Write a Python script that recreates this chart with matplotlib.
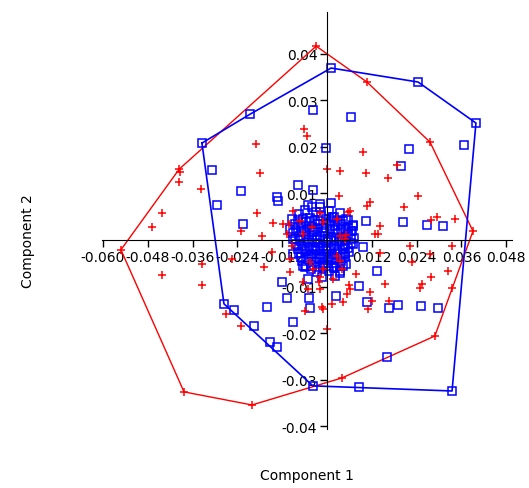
import matplotlib
matplotlib.use('Agg')
import matplotlib.pyplot as plt
import numpy as np

plt.rcParams['axes.unicode_minus'] = False

# group 1 (blue squares): component 1 / component 2 scores, in units of 1e-3
blue_x = [-33.5, -20.6, 1.1, 24.4, 39.9, 33.5, 8.6, -3.8, -27.6, -24.9, -19.6, -15.3, -13.4,
          -30.8, -29.5, -23.0, -22.5, -13.1, -3.8, 6.4, -0.3, 22.0, 36.7, 19.8, -3.8, -7.8,
          -13.4, 20.4, 26.8, 31.1, 10.4, 7.0, 13.4, 8.6, 2.1, 2.4, 10.7, 16.6, 19.0, 25.2,
          29.7, 16.1, -4.6, -4.8, -12.1, -16.1, -10.7, -9.1, -9.1, -5.9,
          -9.5, -4.1, -1.9, 1.3, -5.1, -9.9, -9.1, 4.8, 6.7, 7.0, 9.6, -1.3, 3.5, -6.4,
          -7.5, -6.0, -4.5, -3.0, -1.5, 0.5, 2.0, 3.5, 5.0,
          -8.5, -7.0, -5.5, -4.0, -2.5, -1.0, 0.8, 2.2, 3.8, 5.5, 7.0,
          -9.0, -7.6, -6.2, -4.8, -3.4, -2.0, -0.6, 1.0, 2.6, 4.0, 5.6, 7.2,
          -8.2, -6.8, -5.2, -3.8, -2.4, -1.0, 0.4, 1.8, 3.2, 4.8, 6.4,
          -7.4, -5.9, -4.4, -3.0, -1.6, 0.0, 1.4, 2.9, 4.3, 5.8,
          -6.6, -5.0, -3.6, -2.2, -0.8, 0.8, 2.3, 3.8, 5.2,
          -4.2, -2.6, -1.0, 0.6, 2.0, 3.4, -1.8, 1.2, -5.0,
          -7.8, -6.3, -4.8, -3.3, -1.8, -0.3, 1.2, 2.7, 4.2, 5.7,
          -8.3, -6.8, -5.3, -3.8, -2.3, -0.8, 0.7, 2.2, 3.7, 5.2, 6.5,
          -8.6, -7.1, -5.6, -4.1, -2.6, -1.1, 0.4, 1.9, 3.4, 4.9, 6.3,
          -7.8, -6.3, -4.8, -3.3, -1.8, -0.3, 1.2, 2.7, 4.2, 5.6,
          -7.0, -5.6, -4.1, -2.6, -1.1, 0.4, 1.9, 3.4, 4.8,
          -5.6, -4.1, -2.6, -1.1, 0.4, 1.9, 3.4, 4.4]
blue_y = [20.8, 27.0, 36.9, 33.9, 25.1, -32.4, -31.5, -31.3, -13.7, -15.0, -18.5, -21.9, -23.0,
          15.0, 7.5, 10.5, 3.4, 8.4, 27.9, 26.4, 19.7, 19.5, 20.4, 15.9, 10.7, 11.8,
          9.2, 3.9, 3.2, 3.0, 4.1, 3.0, -6.7, -9.9, -7.7, -12.0, -13.3, -14.6, -13.9, -14.2,
          -14.6, -25.1, -14.6, -12.4, -9.0, -14.4, -12.5, -17.6, -3.0, -5.8,
          4.5, 7.1, 7.1, 4.9, -8.4, 2.4, 0.2, -3.0, 1.9, -0.9, -1.5, -7.9, -6.7, -5.5,
          5.5, 6.5, 4.8, 6.0, 5.2, 6.3, 5.0, 5.8, 4.5,
          3.5, 3.0, 3.8, 2.8, 3.5, 2.6, 3.6, 2.9, 3.4, 2.6, 3.2,
          1.5, 0.9, 1.8, 1.0, 1.7, 0.8, 1.6, 0.7, 1.5, 0.6, 1.2, 0.5,
          -0.8, -1.2, -0.5, -1.4, -0.6, -1.3, -0.5, -1.2, -0.4, -1.1, -0.7,
          -2.8, -2.3, -3.0, -2.2, -2.9, -2.4, -3.1, -2.5, -3.0, -2.6,
          -4.5, -4.0, -4.8, -4.1, -4.9, -4.3, -5.0, -4.4, -5.1,
          -6.2, -6.8, -6.0, -6.6, -6.1, -7.0, 7.8, 8.0, 7.6,
          4.2, 4.4, 4.0, 4.3, 4.1, 4.4, 4.0, 4.3, 4.1, 4.2,
          2.2, 2.0, 2.4, 2.1, 2.3, 2.0, 2.4, 2.2, 2.1, 2.3, 2.0,
          0.2, 0.0, 0.3, 0.1, 0.3, -0.1, 0.2, 0.0, 0.3, 0.1, 0.2,
          -1.9, -2.0, -1.8, -2.0, -1.7, -2.0, -1.8, -1.9, -2.0, -1.8,
          -3.7, -3.8, -3.6, -3.8, -3.6, -3.7, -3.9, -3.6, -3.7,
          -5.6, -5.5, -5.7, -5.5, -5.6, -5.7, -5.5, -5.6]

# group 2 (red crosses)
red_x = [-2.9, 10.7, 27.6, 39.1, 28.9, 4.0, -20.1, -38.3, -55.2, -39.6,
         -39.4, -39.6, -33.8, -44.3, -46.8, -19.0, -17.9, -18.8, -14.4, -23.0, -17.3, -10.8,
         -14.8, -44.3, -33.6, -33.6, -25.5, -16.8, -27.1, -23.0,
         -6.1, -5.3, -0.1, 3.5, 9.6, 10.4, 16.4, 18.7, 24.5, 20.7, 11.5, 10.6, 3.3, 5.7,
         14.2, 13.6, 29.4, 34.3, 27.8, 22.2, 33.4, 27.6, 22.7, 32.5, 27.8, 25.4, 24.9,
         15.5, 12.0, 16.6, 11.1, 33.4, 7.8, 6.0, 5.3, 4.4, -0.1, -1.0, -5.9, -2.1, 14.2,
         12.9, 5.1, 6.2, -11.7, -6.3, -1.9, -1.0, 2.6, 3.5, 4.8, -4.6, -3.7, -1.9, -1.0,
         2.6, 3.5, 3.9, 1.7, 6.2, 11.5, -9.9, -6.3, -5.0, -9.5, -9.0, -7.2, -10.1, -4.1,
         -9.9, -1.9, 1.3, -1.4]
red_y = [41.6, 33.9, 21.0, 1.9, -20.6, -29.6, -35.4, -32.6, -2.1, 15.2,
         14.6, 12.4, 10.9, 5.8, 2.7, 20.6, 14.4, 5.8, 3.6, 2.0, 0.8, 1.3,
         -2.5, -7.5, -9.6, -5.2, -4.1, -5.9, -15.9, -18.4,
         23.8, 22.3, 15.2, 14.9, 18.9, 14.4, 13.2, 16.1, 9.5, 7.0, 8.2, 7.4, 9.5, 6.1,
         2.9, 1.3, 4.9, 4.4, 4.3, -1.2, -1.2, -3.0, -4.8, -6.7, -8.0, -9.4, -10.2,
         -9.4, -13.0, -13.0, -14.7, -10.2, -7.3, -9.7, -11.6, -13.2, -19.1, -14.7, -15.2, -9.1, -2.8,
         1.3, 1.1, 6.3, 3.4, 1.3, 5.9, 3.8, 4.5, 0.9, 0.2, -4.8, -6.2, -8.0, -6.2,
         -3.4, -4.4, -6.2, -8.4, -10.5, -11.2, -6.9, -9.1, -10.5, -1.2, 6.3, 4.1, 3.4, 2.7,
         -4.1, -10.5, -13.7, -14.4]

x_ticks = [-0.060, -0.048, -0.036, -0.024, -0.012, 0.012, 0.024, 0.036, 0.048]
y_ticks = [-0.04, -0.03, -0.02, -0.01, 0.01, 0.02, 0.03, 0.04]


def convex_hull(xs, ys):
    pts = sorted(set(zip(xs, ys)))

    def cross(o, a, b):
        return (a[0] - o[0]) * (b[1] - o[1]) - (a[1] - o[1]) * (b[0] - o[0])
    lower, upper = [], []
    for p in pts:
        while len(lower) >= 2 and cross(lower[-2], lower[-1], p) <= 0:
            lower.pop()
        lower.append(p)
    for p in reversed(pts):
        while len(upper) >= 2 and cross(upper[-2], upper[-1], p) <= 0:
            upper.pop()
        upper.append(p)
    h = lower[:-1] + upper[:-1]
    h.append(h[0])
    return np.array(h)


bx = np.array(blue_x) / 1000
by = np.array(blue_y) / 1000
rx = np.array(red_x) / 1000
ry = np.array(red_y) / 1000

fig = plt.figure(figsize=(5.29, 4.89), dpi=100)
ax = fig.add_axes([0, 0, 1, 1])
ax.set_xlim(-327 / 3733, 202 / 3733)
ax.set_ylim(-248 / 4660, 241 / 4660)

hb = convex_hull(bx, by)
hr = convex_hull(rx, ry)
ax.plot(hr[:, 0], hr[:, 1], color='red', lw=1, zorder=2)
ax.plot(hb[:, 0], hb[:, 1], color='blue', lw=1.2, zorder=2)

ax.plot(bx, by, 's', ms=5.5, mfc='none', mec='blue', mew=1.1, zorder=3)
ax.plot(rx, ry, '+', ms=5.5, color='red', mew=1.1, zorder=4)

for s in ['top', 'right']:
    ax.spines[s].set_visible(False)
ax.spines['left'].set_position(('data', 0))
ax.spines['bottom'].set_position(('data', 0))
ax.spines['left'].set_bounds(-0.0405, 0.049)
ax.spines['bottom'].set_bounds(-0.0602, 0.0496)
ax.spines['left'].set_zorder(5)
ax.spines['bottom'].set_zorder(5)

ax.set_xticks(x_ticks)
ax.set_xticklabels(['%.3f' % v for v in x_ticks])
ax.set_yticks(y_ticks)
ax.set_yticklabels(['%.2f' % v for v in y_ticks])
ax.tick_params(direction='out', length=5, width=1, labelsize=10, pad=2)

fig.text(307 / 529, 1 - 476 / 489, 'Component 1', ha='center', va='center', fontsize=10)
fig.text(28 / 529, 1 - 241 / 489, 'Component 2', ha='center', va='center',
         rotation=90, fontsize=10)

fig.savefig('out.png', dpi=100)
